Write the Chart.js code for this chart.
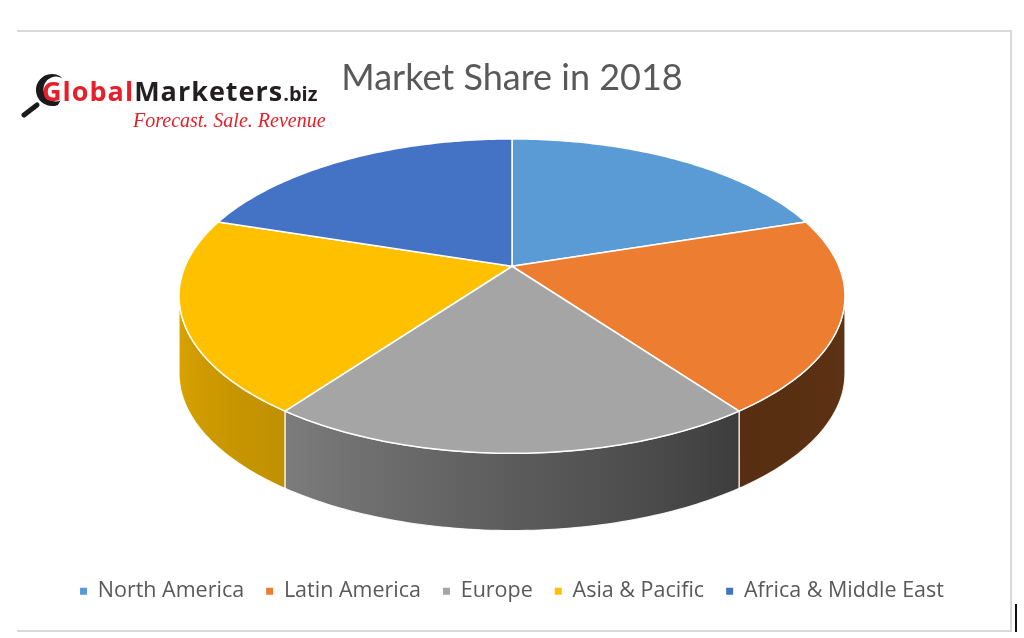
<!DOCTYPE html>
<html><head><meta charset="utf-8">
<script src="https://cdn.jsdelivr.net/npm/chart.js@4.4.1/dist/chart.umd.min.js"></script>
<style>
html,body{margin:0;padding:0;background:#fff;}
#wrap{position:relative;width:1024px;height:638px;}
</style></head>
<body><div id="wrap"><canvas id="c"></canvas></div>
<script>
// ---- data ----
const categories = ['North America', 'Latin America', 'Europe', 'Asia & Pacific', 'Africa & Middle East'];
const shares = [20, 20, 20, 20, 20];
const chartTitle = 'Market Share in 2018';
const logoParts = ['Global', 'Marketers', '.biz'];
const logoTagline = 'Forecast. Sale. Revenue';

// ---- styles ----
const sliceColors = ['#5B9BD5', '#ED7D31', '#A5A5A5', '#FFC000', '#4472C4'];
const K = 0.19;                       // perspective strength
const P = {ax: 1.452, by: 0.673, dy: -0.298, depth: 0.343};
const wallStops = [[11, 0.40], [54, 0.37], [126, 0.75], [169, 0.86]];

function wallFactor(a) {
  const d = a * 180 / Math.PI;
  if (d <= wallStops[0][0]) return wallStops[0][1];
  for (let i = 1; i < wallStops.length; i++) {
    if (d <= wallStops[i][0]) {
      const [d0, f0] = wallStops[i - 1], [d1, f1] = wallStops[i];
      return f0 + (f1 - f0) * (d - d0) / (d1 - d0);
    }
  }
  return wallStops[wallStops.length - 1][1];
}
function shade(hex, f) {
  const n = parseInt(hex.slice(1), 16);
  const r = Math.round(((n >> 16) & 255) * f), g = Math.round(((n >> 8) & 255) * f), b = Math.round((n & 255) * f);
  return `rgb(${r},${g},${b})`;
}
function proj(arc, ang, down) {
  const c = Math.cos(ang), s = Math.sin(ang);
  const u = 1 - K * s;
  const R = arc.outerRadius;
  return [arc.x + R * P.ax * c / u, arc.y + R * (P.dy + P.by * s / u) + down];
}
function rim(arc, a0, a1, down) {
  const pts = [];
  const n = Math.max(2, Math.ceil(Math.abs(a1 - a0) / (Math.PI / 180)));
  for (let i = 0; i <= n; i++) pts.push(proj(arc, a0 + (a1 - a0) * i / n, down));
  return pts;
}

const pie3d = {
  id: 'pie3d',
  beforeDatasetsDraw(chart) {
    const ctx = chart.ctx;
    const arcs = chart.getDatasetMeta(0).data;
    const lo = Math.asin(K), hi = Math.PI - Math.asin(K);
    ctx.save();
    ctx.lineJoin = 'round';
    // outer walls (front part only)
    arcs.forEach((arc) => {
      const a0 = Math.max(arc.startAngle, lo), a1 = Math.min(arc.endAngle, hi);
      if (a1 <= a0) return;
      const depth = arc.outerRadius * P.depth;
      const top = rim(arc, a0, a1, 0), bot = rim(arc, a1, a0, depth);
      ctx.beginPath();
      top.concat(bot).forEach((p, j) => j ? ctx.lineTo(p[0], p[1]) : ctx.moveTo(p[0], p[1]));
      ctx.closePath();
      const xs = top[0][0], xe = top[top.length - 1][0];
      const g = ctx.createLinearGradient(xs, 0, xe, 0);
      const col = arc.options.backgroundColor;
      for (let k = 0; k <= 8; k++) {
        const a = a0 + (a1 - a0) * k / 8;
        const x = proj(arc, a, 0)[0];
        const t = Math.min(1, Math.max(0, (x - xs) / (xe - xs)));
        g.addColorStop(t, shade(col, wallFactor(a)));
      }
      ctx.fillStyle = g;
      ctx.fill();
      ctx.strokeStyle = 'rgba(255,255,255,0.9)';
      ctx.lineWidth = 1.2;
      ctx.stroke();
    });
    // top faces
    arcs.forEach((arc) => {
      const cx = arc.x, cy = arc.y + arc.outerRadius * P.dy;
      const pts = rim(arc, arc.startAngle, arc.endAngle, 0);
      ctx.beginPath();
      ctx.moveTo(cx, cy);
      pts.forEach(p => ctx.lineTo(p[0], p[1]));
      ctx.closePath();
      ctx.fillStyle = arc.options.backgroundColor;
      ctx.fill();
      ctx.strokeStyle = '#ffffff';
      ctx.lineWidth = 1.5;
      ctx.stroke();
    });
    ctx.restore();
    return false;
  }
};

const frame = {
  id: 'frame',
  beforeDraw(chart) {
    const ctx = chart.ctx;
    ctx.save();
    ctx.fillStyle = '#fff';
    ctx.fillRect(0, 0, chart.width, chart.height);
    ctx.strokeStyle = '#d9d9d9';
    ctx.lineWidth = 2;
    ctx.beginPath();
    ctx.moveTo(17, 31); ctx.lineTo(1011, 31); ctx.lineTo(1011, 631); ctx.lineTo(17, 631);
    ctx.stroke();
    ctx.restore();
  },
  afterDraw(chart) {
    const ctx = chart.ctx;
    ctx.save();
    // cursor mark
    ctx.fillStyle = '#111';
    ctx.fillRect(1015, 604, 2, 28);
    // magnifier
    ctx.fillStyle = '#1a1a1a';
    ctx.beginPath();
    ctx.arc(52, 90, 16, -0.33 * Math.PI, 0.38 * Math.PI, true);
    ctx.arc(56, 89, 12.5, 0.38 * Math.PI, -0.33 * Math.PI, false);
    ctx.closePath();
    ctx.fill();
    ctx.strokeStyle = '#1a1a1a';
    ctx.lineWidth = 5;
    ctx.lineCap = 'round';
    ctx.beginPath();
    ctx.moveTo(37, 105); ctx.lineTo(24, 115);
    ctx.stroke();
    // logo text
    ctx.textBaseline = 'alphabetic';
    ctx.textAlign = 'left';
    ctx.font = 'bold 27px "Open Sans"';
    ctx.letterSpacing = '1px';
    let x = 42;
    ctx.fillStyle = '#E5202A';
    ctx.fillText(logoParts[0], x, 101);
    x += ctx.measureText(logoParts[0]).width;
    ctx.fillStyle = '#231F20';
    ctx.fillText(logoParts[1], x, 101);
    x += ctx.measureText(logoParts[1]).width;
    ctx.letterSpacing = '0px';
    ctx.font = 'bold 20px "Open Sans"';
    ctx.fillText(logoParts[2], x, 101);
    ctx.font = 'italic 20px "Liberation Serif"';
    ctx.fillStyle = '#E5202A';
    ctx.fillText(logoTagline, 133, 127);
    ctx.restore();
  }
};

Chart.defaults.font.family = '"Open Sans", sans-serif';
new Chart(document.getElementById('c'), {
  type: 'pie',
  data: {
    labels: categories,
    datasets: [{
      data: shares,
      backgroundColor: sliceColors,
      borderWidth: 0,
      hoverOffset: 0,
      offset: 0
    }]
  },
  options: {
    responsive: true,
    maintainAspectRatio: false,
    devicePixelRatio: 1,
    animation: false,
    layout: {padding: {top: 0, bottom: 26, left: 0, right: 0}},
    plugins: {
      title: {
        display: true,
        text: chartTitle,
        color: '#595959',
        font: {family: 'Lato', size: 36, weight: 'normal'},
        padding: {top: 57, bottom: 8}
      },
      legend: {
        position: 'bottom',
        labels: {
          boxWidth: 7, boxHeight: 7, padding: 22,
          color: '#595959',
          font: {family: '"Open Sans"', size: 21.5}
        }
      },
      tooltip: {enabled: false}
    }
  },
  plugins: [frame, pie3d]
});
</script>
</body></html>
